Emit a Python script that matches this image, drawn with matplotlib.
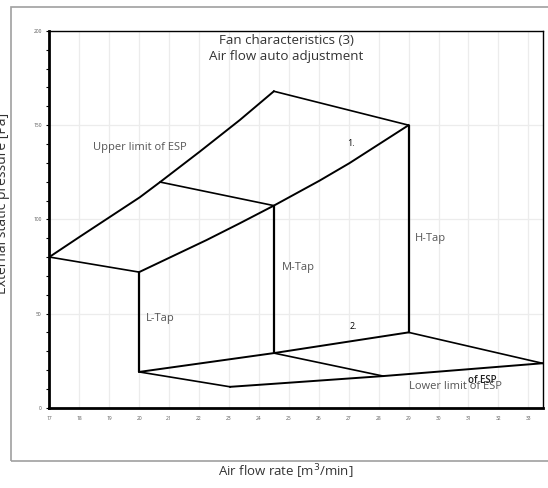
"""Fan characteristics (3): air flow auto adjustment envelope."""

import matplotlib
import matplotlib.pyplot as plt
from matplotlib.patches import Rectangle
from matplotlib.ticker import MultipleLocator

matplotlib.use("Agg")
plt.rcParams["font.family"] = ["Open Sans", "DejaVu Sans"]

# Upper limit of ESP (curve)
upper_x = [17, 18.02, 20.02, 20.7, 22.02, 23.36, 24.5]
upper_y = [80, 90.8, 111.7, 119.8, 135.9, 152.7, 168]

# Fan curve through tap tops ("1.")
fan_hi_x = [20, 22.25, 23.36, 24.5, 26.02, 27.02, 28.02, 29]
fan_hi_y = [72, 89, 97.9, 107.3, 120.5, 129.8, 140, 150]

# Fan curve through tap bottoms ("2.")
fan_lo_x = [20, 24.5, 29]
fan_lo_y = [19, 29, 40]

# Lower limit of ESP (curve)
lower_x = [23.04, 24.4, 28.15, 33.47]
lower_y = [11.1, 12.6, 16.8, 23.6]

# Straight links from the upper limit down to the fan curve
max_links = [((17, 20), (80, 72)), ((20.7, 24.5), (119.8, 107.3)), ((24.5, 29), (168, 150))]
# Straight links from the lower fan curve down to the lower limit
min_links = [((20, 23.04), (19, 11.1)), ((24.5, 28.15), (29, 16.8)), ((29, 33.47), (40, 23.6))]

# Tap vertical lines
tap_x = [20, 24.5, 29]
tap_top = [72, 107.3, 150]
tap_bottom = [19, 29, 40]

fig = plt.figure(figsize=(5.48, 4.88), dpi=100)
fig.patches.append(Rectangle((11 / 548, 1 - 461 / 488), 1.0, (461 - 7) / 488,
                             transform=fig.transFigure, fill=False,
                             edgecolor="#a0a0a0", linewidth=1.2))

ax = fig.add_axes([0.09, 0.1645, 0.9015, 0.772])
ax.set_xlim(17, 33.5)
ax.set_ylim(0, 200)

ax.xaxis.set_major_locator(MultipleLocator(1))
ax.yaxis.set_major_locator(MultipleLocator(50))
ax.yaxis.set_minor_locator(MultipleLocator(10))
ax.grid(True, which="major", color="#ececec", linewidth=0.9)
ax.set_axisbelow(True)
ax.tick_params(axis="both", which="major", labelsize=3.5, labelcolor="#555555",
               length=2, width=0.8, color="black")
ax.tick_params(axis="y", which="minor", length=2, width=0.8)
ax.tick_params(axis="x", which="major", length=0, pad=6)

for side in ["left", "bottom"]:
    ax.spines[side].set_linewidth(2)
for side in ["top", "right"]:
    ax.spines[side].set_linewidth(1)

lw = 1.4
ax.plot(upper_x, upper_y, color="black", lw=lw)
ax.plot(fan_hi_x, fan_hi_y, color="black", lw=lw)
ax.plot(fan_lo_x, fan_lo_y, color="black", lw=lw)
ax.plot(lower_x, lower_y, color="black", lw=lw)
for xs, ys in max_links + min_links:
    ax.plot(xs, ys, color="black", lw=1.2)
ax.vlines(tap_x, tap_bottom, tap_top, color="black", lw=1.6)

txt = dict(color="#555555", fontsize=8)
ax.text(24.92, 195.2, "Fan characteristics (3)", ha="center", va="center",
        color="#333333", fontsize=9.6)
ax.text(24.92, 186.2, "Air flow auto adjustment", ha="center", va="center",
        color="#333333", fontsize=9.6)
ax.text(18.46, 138.4, "Upper limit of ESP", ha="left", va="center", **txt)
ax.text(26.96, 140.5, "1.", ha="left", va="center", color="black", fontsize=6.5)
ax.text(29.22, 89.6, "H-Tap", ha="left", va="center", **txt)
ax.text(24.76, 74.7, "M-Tap", ha="left", va="center", **txt)
ax.text(20.22, 47.6, "L-Tap", ha="left", va="center", **txt)
ax.text(27.02, 42.9, "2.", ha="left", va="center", color="black", fontsize=6.5)
ax.text(29.02, 11.5, "Lower limit of ESP", ha="left", va="center", **txt)
ax.text(30.98, 14.2, "of ESP", ha="left", va="center", color="#222222",
        fontsize=7, fontweight="semibold")

fig.text(0.521, 0.033, "Air flow rate [m$^3$/min]", ha="center", va="center",
         color="#333333", fontsize=9.5)
fig.text(0.004, 0.584, "External static pressure [Pa]", ha="center", va="center",
         rotation=90, color="#333333", fontsize=10)

fig.savefig("out.png", dpi=100)
